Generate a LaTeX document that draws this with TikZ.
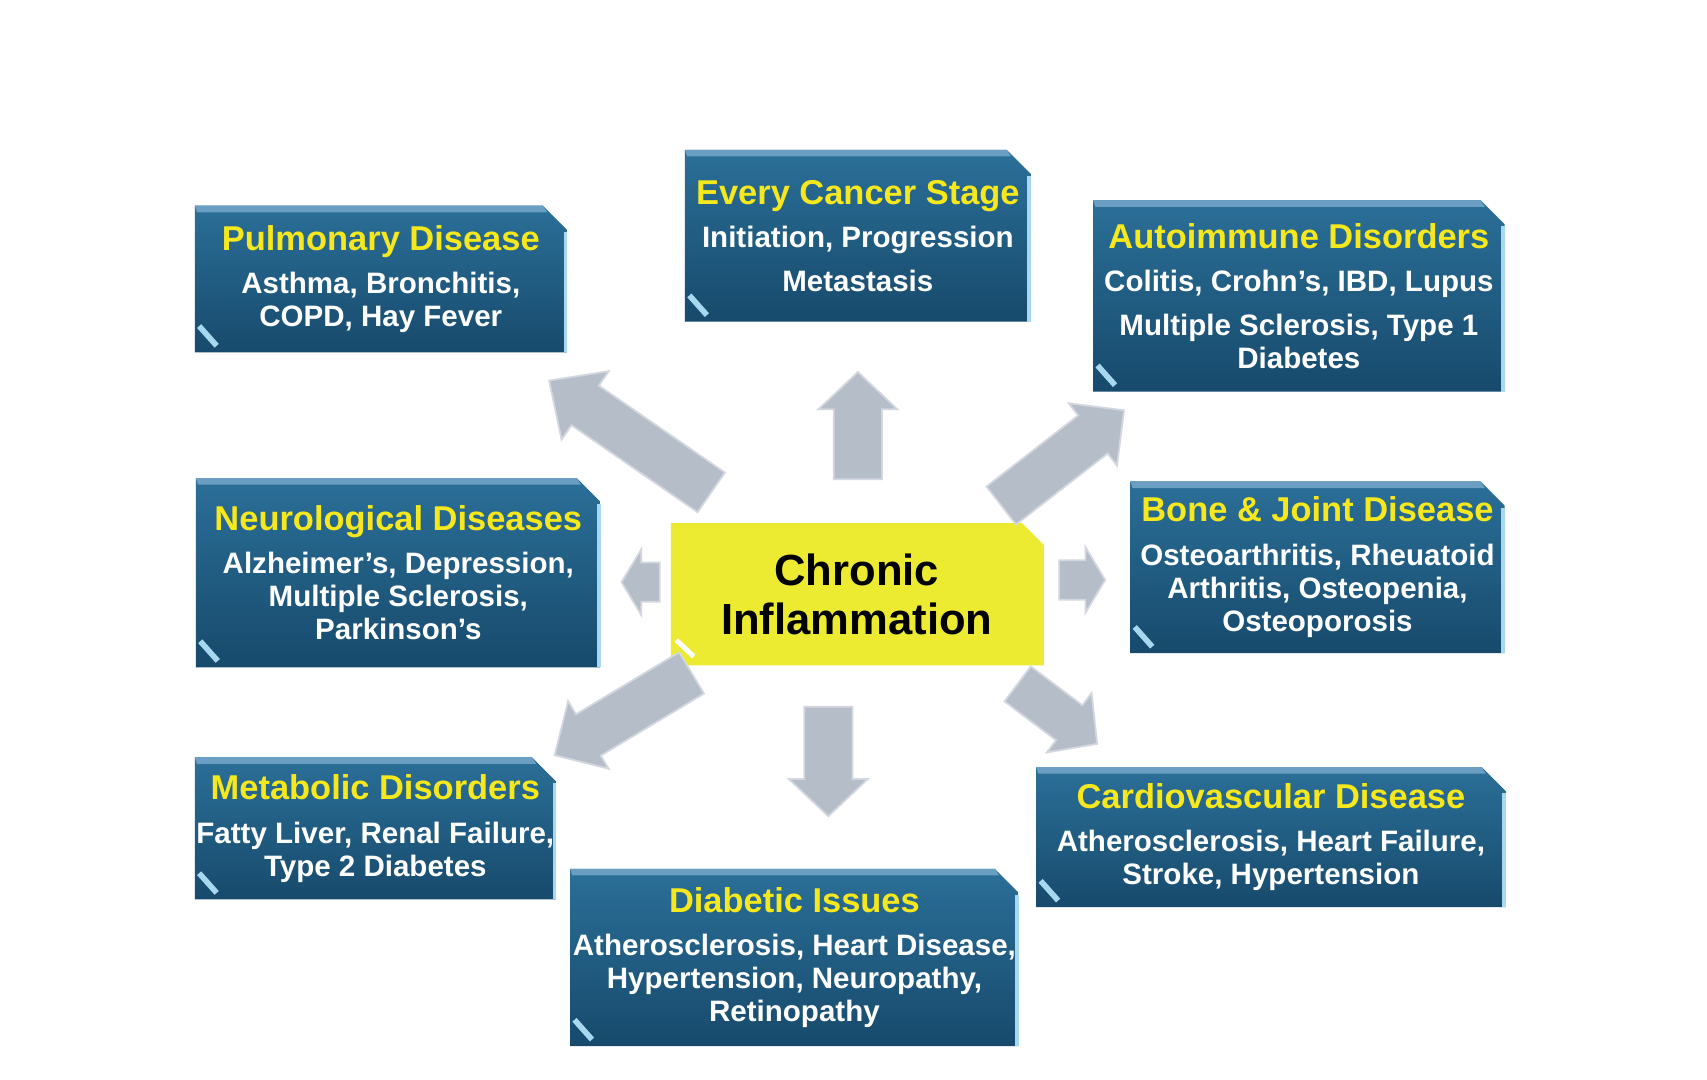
\documentclass[tikz,border=0pt]{standalone}
\usepackage{fontspec}
\setmainfont{Liberation Sans}
\definecolor{boxtop}{HTML}{2B6F98}
\definecolor{boxbot}{HTML}{174A6C}
\definecolor{bevel}{HTML}{6A9EC2}
\definecolor{redge}{HTML}{A8D8F0}
\definecolor{ttl}{HTML}{F6E81C}
\definecolor{arr}{HTML}{B5BDC9}
\definecolor{yel}{HTML}{ECEB32}
\newcommand{\myttl}{\fontsize{9.8}{11.8}\selectfont\bfseries}
\tikzset{
  txt/.style={text=white, align=center, font=\fontsize{8.4}{9.4}\selectfont\bfseries, inner sep=0},
  blk/.style={fill=arr, draw=arr!60!white, line width=0.5pt},
}
% \dbox{name}{x1}{y1}{x2}{y2}{title}{body}
\newcommand{\dbox}[7]{%
  \shade[top color=boxtop, bottom color=boxbot]
    (#2,#3) -- (#4-22,#3) -- (#4,#3+22) -- (#4,#5) -- (#2,#5) -- cycle;
  \fill[bevel] (#2,#3) -- (#4-22,#3) -- (#4-18,#3+6) -- (#2+2,#3+6) -- cycle;
  \fill[redge] (#4-3,#3+24) rectangle (#4,#5);
  \draw[redge, line width=1.6pt] (#2+4,#5-24) -- (#2+20,#5-6);
  \node[txt] (#1) at ({(#2+#4)/2},{(#3+#5)/2}) {{\color{ttl}\myttl #6}\\[3pt] #7};
}
% \barrow{name}{tailx}{taily}{angle}{length}{halfbody}{halfhead}{headlen}
\newcommand{\barrow}[8]{%
  \begin{scope}[shift={(#2,#3)}, rotate=#4]
    \path[blk] (0,-#6) -- (#5-#8,-#6) -- (#5-#8,-#7) -- (#5,0) -- (#5-#8,#7) -- (#5-#8,#6) -- (0,#6) -- cycle;
    \coordinate (#1) at (#5,0);
  \end{scope}
}
\begin{document}
\begin{tikzpicture}[x=0.01094cm,y=-0.01094cm]
\useasboundingbox[fill=white] (0,0) rectangle (1560,987);

\dbox{pul}{178}{188}{518}{322}{Pulmonary Disease}{Asthma, Bronchitis,\\COPD, Hay Fever}
\dbox{can}{626}{137}{942}{294}{Every Cancer Stage}{Initiation,\ Progression\\[3pt]Metastasis}
\dbox{aut}{999}{183}{1375}{358}{Autoimmune Disorders}{Colitis, Crohn's, IBD, Lupus\\[3pt]Multiple Sclerosis, Type 1\\Diabetes}
\dbox{neu}{179}{437}{549}{610}{Neurological Diseases}{Alzheimer's, Depression,\\Multiple Sclerosis,\\Parkinson's}
\dbox{bon}{1033}{440}{1375}{597}{Bone \& Joint Disease}{Osteoarthritis, Rheuatoid\\Arthritis, Osteopenia,\\Osteoporosis}
\dbox{met}{178}{692}{508}{822}{Metabolic Disorders}{Fatty Liver, Renal Failure,\\Type 2 Diabetes}
\dbox{dia}{521}{794}{931}{956}{Diabetic Issues}{Atherosclerosis, Heart Disease,\\Hypertension, Neuropathy,\\Retinopathy}
\dbox{car}{947}{701}{1376}{829}{Cardiovascular Disease}{Atherosclerosis, Heart Failure,\\Stroke, Hypertension}

% centre
\fill[yel] (613,478) -- (934,478) -- (954,498) -- (954,608) -- (613,608) -- cycle;
\draw[white, line width=1.4pt] (618,585) -- (634,600);
\node[align=center, inner sep=0, font=\fontsize{12.4}{14}\selectfont\bfseries] (c) at (783,543) {Chronic\\Inflammation};

% arrows
\barrow{a1}{650}{450}{145.4}{180}{22}{38}{40}
\barrow{a2}{784}{438}{90}{98}{22}{36}{34}
\barrow{a3}{915}{462}{37.8}{142}{22}{36}{36}
\barrow{a4}{603}{532}{180}{35}{18}{30}{18}
\barrow{a5}{968}{530}{0}{42}{18}{30}{18}
\barrow{a6}{632}{615}{211}{146}{22}{36}{36}
\barrow{a7}{757}{646}{-90}{100}{22}{36}{34}
\barrow{a8}{930}{625}{-37}{91}{20}{34}{32}
\end{tikzpicture}
\end{document}
